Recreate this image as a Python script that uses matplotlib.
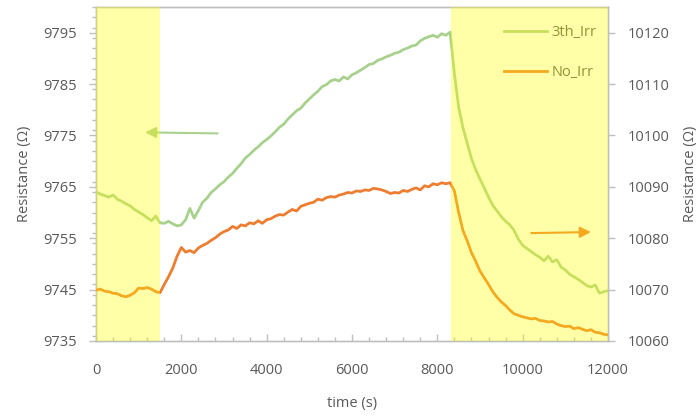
import numpy as np
import matplotlib
matplotlib.use("Agg")
import matplotlib.pyplot as plt
from matplotlib.ticker import MultipleLocator

plt.rcParams['font.family'] = ['Open Sans', 'DejaVu Sans']

# sampling times (s)
time_s = np.arange(0, 12001, 100)

# 3th_Irr resistance, left axis (Ohm)
res_3th_irr = [
    9764.0, 9763.6, 9763.3, 9763.0, 9763.4, 9762.6, 9762.2, 9761.7, 9761.3, 9760.6,
    9760.1, 9759.6, 9759.0, 9758.4, 9759.3, 9758.0, 9757.9, 9758.3, 9757.8, 9757.4,
    9757.6, 9758.6, 9760.8, 9758.9, 9760.4, 9762.0, 9762.8, 9763.9, 9764.6, 9765.4,
    9766.0, 9766.9, 9767.6, 9768.6, 9769.5, 9770.6, 9771.3, 9772.1, 9772.8, 9773.6,
    9774.2, 9774.9, 9775.7, 9776.6, 9777.2, 9778.2, 9779.0, 9779.8, 9780.3, 9781.3,
    9782.1, 9782.9, 9783.6, 9784.5, 9784.9, 9785.6, 9785.9, 9785.6, 9786.4, 9786.0,
    9786.8, 9787.2, 9787.7, 9788.2, 9788.8, 9789.0, 9789.6, 9789.9, 9790.3, 9790.6,
    9791.0, 9791.2, 9791.7, 9792.0, 9792.4, 9792.6, 9793.4, 9793.9, 9794.2, 9794.5,
    9794.1, 9794.8, 9794.5, 9795.1, 9787.0, 9780.5, 9776.5, 9773.5, 9770.5, 9768.3,
    9766.5, 9764.8, 9763.0, 9761.4, 9760.3, 9759.2, 9758.3, 9757.6, 9756.5, 9754.8,
    9753.6, 9753.0, 9752.4, 9751.8, 9751.3, 9750.6, 9751.5, 9750.4, 9750.8, 9749.4,
    9748.8, 9748.0, 9747.5, 9747.0, 9746.4, 9745.8, 9745.5, 9745.9, 9744.3, 9744.6,
    9744.8,
]

# No_Irr resistance, right axis (Ohm)
res_no_irr = [
    10069.9, 10070.1, 10069.7, 10069.6, 10069.3, 10069.2, 10068.8, 10068.6, 10068.9, 10069.4,
    10070.3, 10070.2, 10070.4, 10070.1, 10069.6, 10069.4, 10071.0, 10072.5, 10074.2, 10076.5,
    10078.2, 10077.3, 10077.6, 10077.2, 10078.1, 10078.6, 10079.0, 10079.6, 10080.1, 10080.8,
    10081.3, 10081.6, 10082.3, 10081.9, 10082.6, 10082.4, 10083.0, 10082.8, 10083.4, 10082.9,
    10083.6, 10083.8, 10084.3, 10084.6, 10084.5, 10085.1, 10085.6, 10085.3, 10086.2, 10086.5,
    10086.8, 10087.0, 10087.6, 10087.4, 10087.9, 10088.1, 10088.0, 10088.4, 10088.6, 10088.9,
    10088.8, 10089.2, 10089.1, 10089.4, 10089.3, 10089.7, 10089.6, 10089.4, 10089.1, 10088.7,
    10088.9, 10088.8, 10089.3, 10089.1, 10089.5, 10089.8, 10089.4, 10090.2, 10090.0, 10090.6,
    10090.4, 10090.8, 10090.6, 10090.8, 10089.2, 10085.0, 10081.5, 10079.5, 10077.2, 10075.5,
    10073.6, 10072.3, 10071.0, 10069.6, 10068.5, 10067.6, 10066.9, 10066.0, 10065.3, 10065.0,
    10064.7, 10064.5, 10064.3, 10064.4, 10064.0, 10063.9, 10063.7, 10063.8, 10063.3, 10063.0,
    10062.8, 10062.9, 10062.4, 10062.6, 10062.3, 10062.0, 10062.2, 10061.7, 10061.6, 10061.3,
    10061.2,
]

# irradiated intervals (s)
irr_windows = [(0, 1500), (8330, 12000)]

x_ticks = [0, 2000, 4000, 6000, 8000, 10000, 12000]
left_ticks = [9735, 9745, 9755, 9765, 9775, 9785, 9795]
right_ticks = [10060, 10070, 10080, 10090, 10100, 10110, 10120]

GREEN = '#A9D18E'
ORANGE = '#ED7D31'
YELLOW = '#FFFF00'
GREY_TXT = '#595959'
GREY_AX = '#BFBFBF'
FS = 10.5

fig = plt.figure(figsize=(7.0, 4.17), dpi=100)
ax1 = fig.add_axes([96 / 700, 1 - 341 / 417, 512 / 700, 334 / 417])
ax2 = ax1.twinx()

l1, = ax1.plot(time_s, res_3th_irr, color=GREEN, lw=2.0, label='3th_Irr', zorder=3)
l2, = ax2.plot(time_s, res_no_irr, color=ORANGE, lw=2.0, label='No_Irr', zorder=3)

ax1.set_xlim(0, 12000)
ax1.set_ylim(9735, 9800)
ax2.set_ylim(10060, 10125)

ax1.set_xticks(x_ticks)
ax1.xaxis.set_minor_locator(MultipleLocator(400))
ax1.set_yticks(left_ticks)
ax1.yaxis.set_minor_locator(MultipleLocator(2))
ax2.set_yticks(right_ticks)

for a in (ax1, ax2):
    for s in a.spines.values():
        s.set_color(GREY_AX)
        s.set_linewidth(1.0)

ax1.tick_params(axis='x', which='major', direction='in', length=5, width=1,
                color=GREY_AX, pad=16, labelsize=FS, labelcolor=GREY_TXT)
ax1.tick_params(axis='x', which='minor', direction='in', length=3, width=1,
                color=GREY_AX)
ax1.tick_params(axis='y', which='major', direction='out', length=5, width=1,
                color=GREY_AX, pad=9, labelsize=FS, labelcolor=GREY_TXT)
ax1.tick_params(axis='y', which='minor', direction='out', length=3, width=1,
                color=GREY_AX)
ax2.tick_params(axis='y', which='major', direction='out', length=5, width=1,
                color=GREY_AX, pad=9, labelsize=FS, labelcolor=GREY_TXT)

ax1.set_xlabel('time (s)', fontsize=FS, color=GREY_TXT, labelpad=13)
ax1.set_ylabel('Resistance (Ω)', fontsize=FS, color=GREY_TXT, labelpad=8)
ax2.set_ylabel('Resistance (Ω)', fontsize=FS, color=GREY_TXT, rotation=90, labelpad=10)

# arrows pointing to the axis each curve belongs to
ax1.annotate('', xy=(1150, 9775.6), xytext=(2850, 9775.4),
             arrowprops=dict(arrowstyle='-|>', color=GREEN, lw=1.5,
                             mutation_scale=16, shrinkA=0, shrinkB=0), zorder=4)
ax2.annotate('', xy=(11600, 10081.2), xytext=(10200, 10081.0),
             arrowprops=dict(arrowstyle='-|>', color=ORANGE, lw=1.5,
                             mutation_scale=16, shrinkA=0, shrinkB=0), zorder=4)

leg = ax2.legend(handles=[l1, l2], loc='upper left', bbox_to_anchor=(0.772, 0.985),
                 frameon=False, fontsize=FS, labelcolor=GREY_TXT,
                 handlelength=2.9, handletextpad=0.35, labelspacing=1.7)

# translucent highlight over the irradiation windows
for a, b in irr_windows:
    ax2.axvspan(a, b, color=YELLOW, alpha=0.34, lw=0, zorder=10)

fig.savefig('out.png', dpi=100)
